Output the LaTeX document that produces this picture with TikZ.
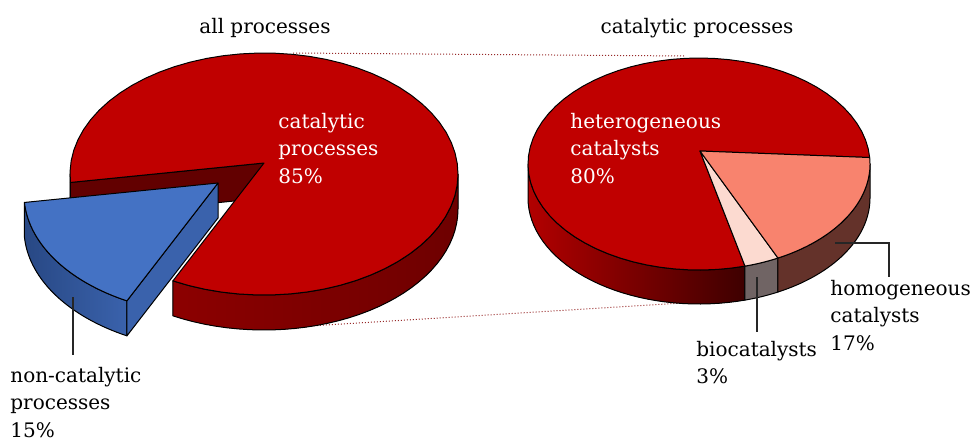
\documentclass[tikz,border=0pt]{standalone}
\usepackage{tikz}
\usepackage{fontspec}
\setmainfont{DejaVu Serif}

\definecolor{catred}{RGB}{192,0,0}
\definecolor{cutred}{RGB}{98,0,0}
\definecolor{sideredA}{RGB}{140,0,0}
\definecolor{sideredB}{RGB}{72,0,0}
\definecolor{sideredC}{RGB}{110,0,0}
\definecolor{sideredD}{RGB}{178,0,0}
\definecolor{sideredE}{RGB}{62,0,0}
\definecolor{ncblue}{RGB}{68,114,196}
\definecolor{ncblueside}{RGB}{58,98,172}
\definecolor{ncbluedark}{RGB}{40,72,132}
\definecolor{homsalmon}{RGB}{248,131,110}
\definecolor{homside}{RGB}{100,50,42}
\definecolor{biopink}{RGB}{252,218,208}
\definecolor{bioside}{RGB}{112,100,100}
\definecolor{zoomred}{RGB}{150,40,40}

% side band: cx cy rx ry from to depth
\newcommand\pieband[7]{plot[domain=#5:#6,samples=36,variable=\t]({#1+#3*cos(\t)},{#2+#4*sin(\t)})
  -- plot[domain=#6:#5,samples=36,variable=\t]({#1+#3*cos(\t)},{#2+#7+#4*sin(\t)}) -- cycle}
% top face: vx vy cx cy rx ry from to
\newcommand\pietop[8]{(#1,#2) -- plot[domain=#7:#8,samples=60,variable=\t]({#3+#5*cos(\t)},{#4+#6*sin(\t)}) -- cycle}
% cut face: vx vy cx cy rx ry angle depth
\newcommand\piecut[8]{(#1,#2) -- ({#3+#5*cos(#7)},{#4+#6*sin(#7)}) -- ({#3+#5*cos(#7)},{#4+#8+#6*sin(#7)}) -- (#1,#2+#8) -- cycle}

\begin{document}
\begin{tikzpicture}
  [x=0.5pt,y=-0.5pt,
   slice/.style={draw=black,line width=0.5pt,line join=round},
   title/.style={anchor=base,inner sep=0pt,font=\fontsize{10}{13.6}\selectfont},
   lbl/.style={align=left,anchor=north west,inner xsep=0pt,font=\fontsize{10}{13.6}\selectfont},
   inlbl/.style={lbl,inner ysep=0pt,text=white},
   leader/.style={draw=black!85,line width=0.6pt},
   zoomline/.style={draw=zoomred,densely dotted,line width=0.5pt}]
  \useasboundingbox (0,0) rectangle (973,441);

  % zoom lines between the pies
  \coordinate (zoomTopL) at (293,53);
  \coordinate (zoomTopR) at (685,56);
  \coordinate (zoomBotL) at (293,327);
  \coordinate (zoomBotR) at (682,303);
  \draw[zoomline] (zoomTopL) -- (zoomTopR);
  \draw[zoomline] (zoomBotL) -- (zoomBotR);

  % right pie
  \filldraw[slice,left color=sideredD,right color=sideredE] \pieband{699}{164}{171}{106}{74.4}{180}{34};
  \filldraw[slice,fill=bioside] \pieband{699}{164}{171}{106}{62.5}{74.4}{34};
  \filldraw[slice,fill=homside] \pieband{699}{164}{171}{106}{0}{62.5}{34};
  \filldraw[slice,fill=catred] \pietop{700}{151}{699}{164}{171}{106}{74.4}{356.5};
  \filldraw[slice,fill=biopink] \pietop{700}{151}{699}{164}{171}{106}{62.5}{74.4};
  \filldraw[slice,fill=homsalmon] \pietop{700}{151}{699}{164}{171}{106}{-3.5}{62.5};

  % left pie, red part
  \filldraw[slice,left color=sideredA,middle color=sideredB,right color=sideredC] \pieband{264}{174}{194}{121}{0}{118}{35};
  \filldraw[slice,fill=cutred] \pieband{264}{174}{194}{121}{176}{180}{35};
  \filldraw[slice,fill=cutred] \piecut{264}{163}{264}{174}{194}{121}{176}{35};
  \filldraw[slice,fill=catred] \pietop{264}{163}{264}{174}{194}{121}{176}{478};

  % left pie, blue part pulled out
  \filldraw[slice,left color=ncbluedark,right color=ncblueside] \pieband{218}{194}{194}{121}{118}{176}{35};
  \filldraw[slice,fill=ncblueside] \piecut{218}{183}{218}{194}{194}{121}{118}{35};
  \filldraw[slice,fill=ncblue] \pietop{218}{183}{218}{194}{194}{121}{118}{176};

  % titles
  \node[title] (ttlAll) at (265,33) {all processes};
  \node[title] (ttlCat) at (697,33) {catalytic processes};

  % labels inside
  \node[inlbl] (lblCat) at (278,113) {catalytic\\processes\\85\%};
  \node[inlbl] (lblHet) at (570,113) {heterogeneous\\catalysts\\80\%};

  % labels outside
  \node[lbl,inner ysep=6pt] (lblNon) at (10,355) {non-catalytic\\processes\\15\%};
  \node[lbl,inner ysep=1.5pt] (lblHom) at (830,277) {homogeneous\\catalysts\\17\%};
  \node[lbl,inner ysep=4.5pt] (lblBio) at (696,332) {biocatalysts\\3\%};

  \coordinate (nonPt) at (73,297);
  \coordinate (homPt) at (835,243);
  \coordinate (homBend) at (889,243);
  \coordinate (bioPt) at (757,277);
  \draw[leader] (nonPt) -- (nonPt |- lblNon.north);
  \draw[leader] (homPt) -- (homBend) -- (homBend |- lblHom.north);
  \draw[leader] (bioPt) -- (bioPt |- lblBio.north);
\end{tikzpicture}
\end{document}
